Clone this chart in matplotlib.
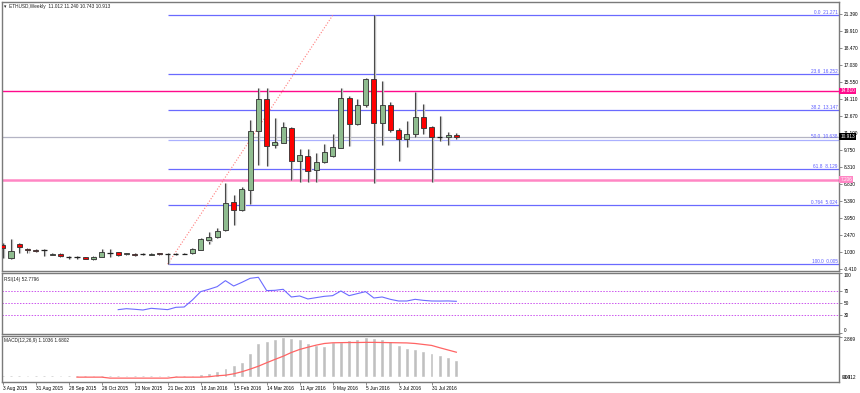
import matplotlib
matplotlib.use('Agg')
import matplotlib.pyplot as plt
from matplotlib.patches import Rectangle
import matplotlib.transforms as mtransforms

# ---------------- data ----------------
opens = [1.65, 0.56, 1.73, 1.33, 1.24, 1.22, 0.82, 0.88, 0.65, 0.63,
         0.60, 0.45, 0.65, 0.93, 1.02, 0.87, 0.90, 0.86, 0.80, 0.94,
         0.88, 0.86, 0.91, 0.96, 1.24, 2.04, 2.33, 2.93, 5.35, 4.64,
         6.35, 11.39, 14.12, 10.17, 10.34, 11.67, 8.85, 9.28, 8.06, 8.77,
         9.28, 9.91, 14.24, 11.96, 13.59, 15.81, 12.05, 13.59, 11.47, 10.68,
         11.11, 12.56, 11.71, 10.87, 10.91, 11.012]
highs = [1.82, 2.16, 1.79, 1.36, 1.28, 1.30, 0.96, 0.94, 0.71, 0.69,
         0.63, 0.68, 1.33, 1.30, 1.07, 0.98, 0.93, 0.93, 0.99, 0.99,
         0.93, 0.93, 0.95, 1.36, 2.27, 2.78, 3.13, 6.97, 5.92, 6.58,
         12.33, 15.04, 15.04, 12.48, 12.18, 11.70, 9.83, 9.83, 9.48, 10.28,
         11.13, 15.04, 14.41, 14.10, 15.89, 21.271, 15.64, 13.89, 11.67, 12.27,
         14.75, 13.70, 11.84, 12.67, 11.28, 11.240]
lows = [0.54, 0.42, 0.94, 0.96, 1.07, 0.73, 0.77, 0.59, 0.48, 0.48,
        0.42, 0.39, 0.62, 0.65, 0.73, 0.80, 0.73, 0.77, 0.77, 0.79,
        0.005, 0.80, 0.88, 0.91, 1.22, 1.73, 2.22, 2.87, 3.36, 4.58,
        5.15, 8.48, 8.40, 9.96, 10.34, 7.20, 7.06, 7.06, 7.06, 8.68,
        9.14, 9.91, 10.13, 11.88, 13.47, 6.92, 10.19, 11.33, 8.85, 10.05,
        10.85, 11.13, 7.06, 10.56, 10.19, 10.743]
closes = [1.36, 1.13, 1.45, 1.19, 1.13, 1.17, 0.90, 0.71, 0.64, 0.62,
          0.48, 0.65, 1.02, 0.95, 0.82, 0.95, 0.79, 0.84, 0.90, 0.85,
          0.86, 0.89, 0.92, 1.30, 2.16, 2.35, 2.87, 5.21, 4.64, 6.43,
          11.39, 14.12, 10.13, 10.48, 11.71, 8.85, 9.34, 8.00, 8.77, 9.57,
          9.98, 14.24, 11.96, 13.59, 15.81, 12.05, 13.59, 11.47, 10.68, 11.11,
          12.56, 11.67, 10.85, 10.90, 11.02, 10.913]

date_idx = [0, 4, 8, 12, 16, 20, 24, 28, 32, 36, 40, 44, 48, 52]
date_labels = ["3 Aug 2015", "31 Aug 2015", "28 Sep 2015", "26 Oct 2015",
               "23 Nov 2015", "21 Dec 2015", "18 Jan 2016", "15 Feb 2016",
               "14 Mar 2016", "11 Apr 2016", "9 May 2016", "5 Jun 2016",
               "3 Jul 2016", "31 Jul 2016"]

price_ticks = [21.39, 19.91, 18.47, 17.03, 15.55, 14.11, 12.67, 11.19,
               9.75, 8.31, 6.83, 5.39, 3.95, 2.47, 1.03, -0.41]
price_tick_labels = ["21.390", "19.910", "18.470", "17.030", "15.550", "14.110",
                     "12.670", "11.190", "9.750", "8.310", "6.830", "5.390",
                     "3.950", "2.470", "1.030", "-0.410"]

fib_pcts = ["0.0", "23.6", "38.2", "50.0", "61.8", "0.764", "100.0"]
fib_levels = [21.271, 16.252, 13.147, 10.638, 8.129, 5.024, 0.005]
fib_start_bar = 20
trend_bars = [20, 40]
trend_prices = [0.005, 21.271]

hlines_magenta = [14.810, 7.206]
last_price = 10.913

rsi_start = 14
rsi_values = [38.9, 40.5, 39.5, 38.3, 41.1, 40.0, 38.9, 42.8, 43.3, 55.0,
              68.9, 72.8, 77.2, 87.2, 78.3, 84.4, 91.1, 92.8, 70.6, 71.1,
              72.8, 60.0, 61.7, 56.7, 58.9, 61.1, 62.2, 70.0, 62.2, 65.6,
              68.9, 58.3, 60.0, 56.1, 53.3, 53.3, 56.1, 54.4, 53.3, 53.2,
              53.4, 52.78]
rsi_levels = [70, 50, 30]

macd_hist = [0.03, 0.03, 0.03, 0.03, 0.03, 0.03, 0.03, 0.03, 0.03, 0.03,
             0.03, 0.03, 0.03, 0.03, 0.03, 0.03, 0.03, 0.03, 0.03, 0.03,
             0.03, 0.03, 0.04, 0.05, 0.09, 0.19, 0.31, 0.56, 0.74, 0.99,
             1.64, 2.31, 2.47, 2.60, 2.76, 2.67, 2.60, 2.36, 2.19, 2.14,
             2.40, 2.45, 2.55, 2.60, 2.81, 2.67, 2.60, 2.47, 2.19, 2.00,
             1.93, 1.78, 1.59, 1.46, 1.30, 1.15]
signal_start = 9
macd_signal = [-0.05, -0.05, -0.05, -0.05, -0.12, -0.12, -0.12, -0.12, -0.12, -0.12,
               -0.12, -0.12, -0.05, -0.05, -0.05, -0.05, -0.02, 0.05, 0.09, 0.19,
               0.34, 0.53, 0.74, 0.99, 1.23, 1.46, 1.73, 1.95, 2.11, 2.26,
               2.38, 2.43, 2.44, 2.45, 2.45, 2.46, 2.46, 2.45, 2.44, 2.43,
               2.42, 2.38, 2.31, 2.24, 2.07, 1.91, 1.75]

# ---------------- figure ----------------
W, H = 860, 393
plt.rcParams['font.family'] = ['Liberation Sans', 'DejaVu Sans']
fig = plt.figure(figsize=(W / 100, H / 100), dpi=100)
fig.patch.set_facecolor('white')
FS = 3.4


def pax(l, t, r, b):
    return fig.add_axes([l / W, 1 - b / H, (r - l) / W, (b - t) / H])


ax = pax(1.5, 1.5, 839, 271)
ax_rsi = pax(1.5, 272.5, 839, 334)
ax_macd = pax(1.5, 336, 839, 382)
XL = (-0.15, 101.4)
for a in (ax, ax_rsi, ax_macd):
    a.set_xlim(*XL)
    a.set_xticks([])
    a.set_facecolor('white')
    for s in a.spines.values():
        s.set_color('#7a7a7a')
        s.set_linewidth(1.0)
    a.yaxis.tick_right()
    a.tick_params(axis='y', length=2, width=0.6, pad=1.2, labelsize=FS,
                  colors='#7a7a7a', labelcolor='black')

# main panel
ax.set_ylim(-0.58, 22.46)
ax.set_yticks(price_ticks)
ax.set_yticklabels(price_tick_labels)

fib_color = '#6a6aff'
for lvl in fib_levels:
    col = '#aab0ff' if abs(lvl - 10.638) < 1e-6 else fib_color
    ax.hlines(lvl, fib_start_bar, XL[1], colors=col, lw=0.9, zorder=1)
ax.axhline(last_price, color='#b4b4c4', lw=0.9, zorder=1)
ax.axhline(hlines_magenta[0], color='#ff0a8c', lw=1.0, zorder=1)
ax.axhline(hlines_magenta[1], color='#ff86c4', lw=1.8, zorder=1)
ax.plot(trend_bars, trend_prices, color='#ff7a7a', lw=0.8,
        ls=(0, (1, 1.6)), zorder=1)

for i, (o, h, l, c) in enumerate(zip(opens, highs, lows, closes)):
    up = c >= o
    ax.vlines(i + 0.13, l, h, color='#c4c4c4', lw=1.0, zorder=2)
    ax.vlines(i, l, h, color='#4a4a4a', lw=0.8, zorder=3)
    bot = min(o, c)
    hgt = abs(c - o)
    if hgt < 0.06:
        ax.hlines((o + c) / 2, i - 0.31, i + 0.31, color='#202020', lw=0.9, zorder=5)
    else:
        ax.add_patch(Rectangle((i - 0.31 + 0.13, bot - 0.1), 0.62, hgt,
                               fc='#c8c8c8', ec='none', zorder=3))
        ax.add_patch(Rectangle((i - 0.31, bot), 0.62, hgt,
                               fc='#8fbc8f' if up else '#ff0000',
                               ec='#303030', lw=0.6, zorder=4))

trans = mtransforms.blended_transform_factory(ax.transAxes, ax.transData)
for p, lvl in zip(fib_pcts, fib_levels):
    ax.text(0.9985, lvl + 0.05, f"{p}  {lvl:.3f}", transform=trans, ha='right',
            va='bottom', fontsize=FS, color='#5a5aff', zorder=6)

box_kw = dict(transform=trans, ha='left', va='center', fontsize=FS,
              color='white', clip_on=False, zorder=10)
ax.text(1.0015, hlines_magenta[0], "14.810",
        bbox=dict(boxstyle='square,pad=0.2', fc='#ff0a8c', ec='none'), **box_kw)
ax.text(1.0015, last_price, "10.913",
        bbox=dict(boxstyle='square,pad=0.2', fc='black', ec='none'), **box_kw)
ax.text(1.0015, hlines_magenta[1], "7.206",
        bbox=dict(boxstyle='square,pad=0.2', fc='#ff86c4', ec='none'), **box_kw)

ax.text(0.003, 0.99, "\u25BE  ETHUSD,Weekly  11.012 11.240 10.743 10.913",
        transform=ax.transAxes, ha='left', va='top', fontsize=FS, color='#202020')

# RSI panel
ax_rsi.set_ylim(-1.7, 100.8)
for lv in rsi_levels:
    ax_rsi.axhline(lv, color='#cc55ee', lw=0.7, ls=(0, (1.5, 1.5)))
ax_rsi.plot(range(rsi_start, rsi_start + len(rsi_values)), rsi_values,
            color='#6b6bff', lw=0.8)
ax_rsi.set_yticks([100, 70, 50, 30, 0])
ax_rsi.set_yticklabels(["100", "70", "50", "30", "0"])
tl = ax_rsi.get_yticklabels()
tl[0].set_va('top')
tl[-1].set_va('bottom')
ax_rsi.text(0.003, 0.93, "RSI(14) 52.7796", transform=ax_rsi.transAxes,
            ha='left', va='top', fontsize=FS, color='#202020')

# MACD panel
ax_macd.set_ylim(-0.40, 2.92)
ax_macd.bar(range(len(macd_hist)), macd_hist, width=0.22, color='#c0c0c0',
            edgecolor='#c0c0c0', lw=0.4)
ax_macd.plot(range(signal_start, signal_start + len(macd_signal)), macd_signal,
             color='#ff6464', lw=0.9)
ax_macd.set_yticks([2.869])
ax_macd.set_yticklabels(["2.869"])
ax_macd.get_yticklabels()[0].set_va('top')
mtr = mtransforms.blended_transform_factory(ax_macd.transAxes, ax_macd.transData)
ax_macd.text(1.003, -0.07, "0.00", transform=mtr, ha='left', va='center',
             fontsize=FS, clip_on=False)
ax_macd.text(1.005, -0.07, "-0.412", transform=mtr, ha='left', va='center',
             fontsize=FS, clip_on=False)
ax_macd.text(0.003, 0.95, "MACD(12,26,9) 1.1036 1.6802", transform=ax_macd.transAxes,
             ha='left', va='top', fontsize=FS, color='#202020')

ax_macd.set_xticks(date_idx)
ax_macd.set_xticklabels(date_labels, ha='left')
ax_macd.tick_params(axis='x', length=2, width=0.6, pad=1.2, labelsize=FS,
                    colors='#7a7a7a', labelcolor='black')

fig.savefig('out.png', dpi=100, facecolor='white')
